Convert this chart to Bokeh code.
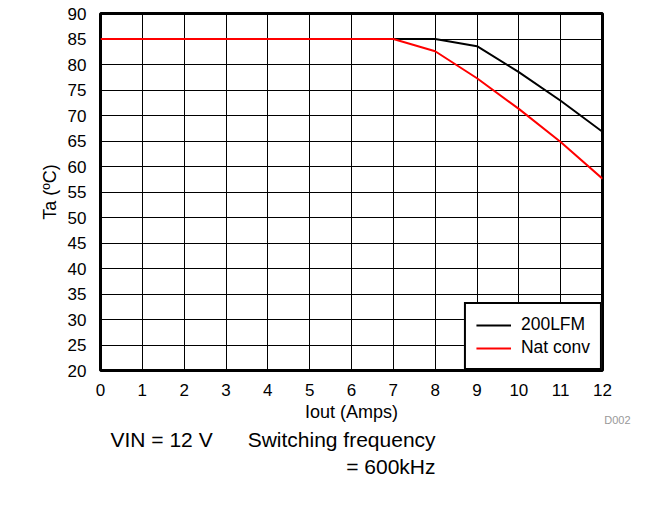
from bokeh.plotting import figure
from bokeh.models import Range1d, FixedTicker, Label, Legend, LegendItem, Title
from bokeh.embed import file_html
from bokeh.resources import INLINE

iout = [0, 1, 2, 3, 4, 5, 6, 7, 8, 9, 10, 11, 12]
lfm200 = [85, 85, 85, 85, 85, 85, 85, 85, 85, 83.6, 78.5, 72.9, 66.8]
natconv = [85, 85, 85, 85, 85, 85, 85, 85, 82.6, 77.3, 71.3, 64.8, 57.6]
xticks = list(range(0, 13))
yticks = list(range(20, 91, 5))

FONT = "Liberation Sans"

p = figure(width=647, height=506, output_backend="svg", toolbar_location=None,
           x_range=Range1d(0, 12), y_range=Range1d(20, 90),
           min_border_left=100, min_border_top=13, min_border_right=45, min_border_bottom=136)
p.background_fill_color = "white"
p.border_fill_color = "white"
p.outline_line_color = "black"
p.outline_line_width = 3

for ax in (p.xaxis[0], p.yaxis[0]):
    ax.axis_line_color = None
    ax.major_tick_line_color = None
    ax.minor_tick_line_color = None
    ax.major_label_text_font = FONT
    ax.major_label_text_font_size = "17px"
    ax.major_label_text_color = "black"
    ax.axis_label_text_font = FONT
    ax.axis_label_text_font_size = "18px"
    ax.axis_label_text_font_style = "normal"
    ax.axis_label_text_color = "black"

p.xaxis[0].ticker = FixedTicker(ticks=xticks)
p.yaxis[0].ticker = FixedTicker(ticks=yticks)
p.xaxis[0].major_label_standoff = 7
p.yaxis[0].major_label_standoff = 8
p.xaxis[0].axis_label = "Iout (Amps)"
p.xaxis[0].axis_label_standoff = 3
p.yaxis[0].axis_label = "Ta (ºC)"
p.yaxis[0].axis_label_standoff = 5

p.xgrid.grid_line_color = "black"
p.ygrid.grid_line_color = "black"
p.xgrid.grid_line_width = 1
p.ygrid.grid_line_width = 1
p.xgrid.ticker = FixedTicker(ticks=xticks)
p.ygrid.ticker = FixedTicker(ticks=yticks)

r1 = p.line(iout, lfm200, line_color="black", line_width=2)
r2 = p.line(iout, natconv, line_color="#ff0000", line_width=2)

legend = Legend(items=[LegendItem(label="200LFM", renderers=[r1]),
                       LegendItem(label="Nat conv", renderers=[r2])],
                location="bottom_right", margin=0, padding=10, spacing=2,
                glyph_width=35, glyph_height=20, label_height=20, label_standoff=10,
                label_text_font=FONT, label_text_font_size="17.5px", label_text_color="black",
                border_line_color="black", border_line_width=2, border_line_alpha=1,
                background_fill_color="white", background_fill_alpha=1)
p.add_layout(legend, "center")

NB = "\u00a0"
p.add_layout(Title(text="VIN = 12 V" + NB * 6 + "Switching frequency", align="left", offset=10,
                   text_font=FONT, text_font_size="21px", text_font_style="normal",
                   text_color="black", standoff=3), "below")
p.add_layout(Title(text="= 600kHz", align="right", offset=167,
                   text_font=FONT, text_font_size="21px", text_font_style="normal",
                   text_color="black", standoff=0), "below")
p.add_layout(Label(x=530, y=70, x_units="screen", y_units="screen", text="D002",
                   text_font=FONT, text_font_size="11px", text_color="#999999",
                   text_baseline="middle", text_align="right"), "below")

open("out.html", "w").write(file_html(p, INLINE))
